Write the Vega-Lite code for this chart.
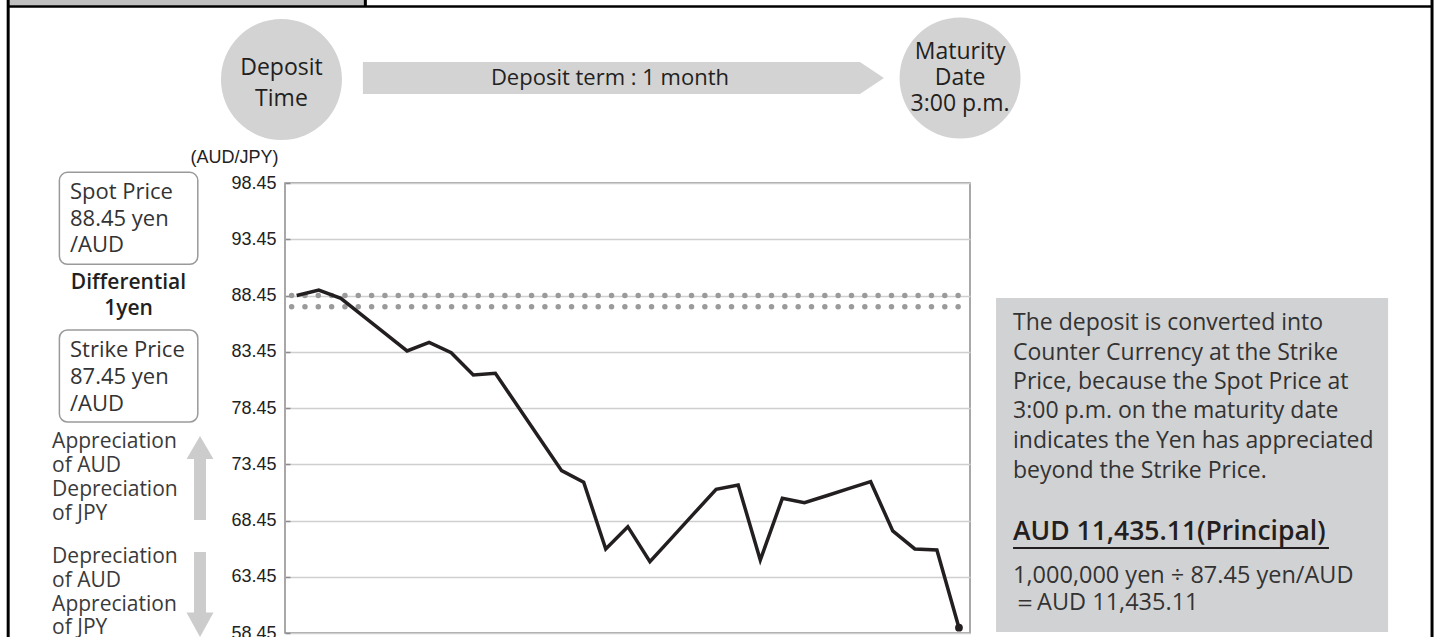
{
  "$schema": "https://vega.github.io/schema/vega-lite/v6.json",
  "width": 685,
  "height": 450,
  "autosize": "none",
  "padding": {"left": 285, "top": 183, "right": 468, "bottom": 4},
  "background": "white",
  "config": {"view": {"stroke": "#8c8c8c", "strokeWidth": 1.5}, "font": "Open Sans"},
  "datasets": {
    "fx": [
      {"day": 0, "rate": 88.45}, {"day": 1, "rate": 88.94}, {"day": 2, "rate": 88.20}, {"day": 3, "rate": 86.64},
      {"day": 4, "rate": 85.08}, {"day": 5, "rate": 83.52}, {"day": 6, "rate": 84.29}, {"day": 7, "rate": 83.37},
      {"day": 8, "rate": 81.38}, {"day": 9, "rate": 81.53}, {"day": 10, "rate": 78.65}, {"day": 11, "rate": 75.77},
      {"day": 12, "rate": 72.88}, {"day": 13, "rate": 71.85}, {"day": 14, "rate": 65.92}, {"day": 15, "rate": 67.90},
      {"day": 16, "rate": 64.79}, {"day": 17, "rate": 66.93}, {"day": 18, "rate": 69.08}, {"day": 19, "rate": 71.22},
      {"day": 20, "rate": 71.61}, {"day": 21, "rate": 64.94}, {"day": 22, "rate": 70.42}, {"day": 23, "rate": 70.03},
      {"day": 24, "rate": 70.65}, {"day": 25, "rate": 71.28}, {"day": 26, "rate": 71.90}, {"day": 27, "rate": 67.52},
      {"day": 28, "rate": 65.92}, {"day": 29, "rate": 65.83}, {"day": 30, "rate": 58.92}
    ]
  },
  "layer": [
    {
      "data": {"name": "fx"},
      "mark": {"type": "line", "color": "#231f20", "strokeWidth": 3.5, "strokeJoin": "miter", "opacity": 0},
      "encoding": {
        "x": {"field": "day", "type": "quantitative", "scale": {"domain": [-0.53, 30.5], "nice": false, "zero": false}, "axis": null},
        "y": {
          "field": "rate", "type": "quantitative",
          "scale": {"domain": [58.45, 98.45], "nice": false, "zero": false},
          "axis": {
            "values": [58.45, 63.45, 68.45, 73.45, 78.45, 83.45, 88.45, 93.45, 98.45],
            "format": ".2f",
            "title": "(AUD/JPY)",
            "titleAngle": 0, "titleAlign": "right", "titleBaseline": "middle",
            "titleX": -7, "titleY": -26,
            "titleFont": "Liberation Sans", "titleFontSize": 18, "titleFontWeight": "normal", "titleColor": "#222222",
            "labelFont": "Liberation Sans", "labelFontSize": 18, "labelColor": "#222222",
            "labelPadding": 14, "labelFlush": false, "labelOverlap": false, "labelBound": false,
            "ticks": true, "tickSize": -5, "tickColor": "#8c8c8c", "tickWidth": 1.5, "domain": false,
            "grid": true, "gridColor": "#cfcfcf", "gridWidth": 1.5
          }
        }
      }
    },
    {
      "data": {"values": [{"x": -13.07, "x2": 3.08, "y": 114.72, "y2": 114.21}]},
      "mark": {"type": "rect", "color": "#c0c0c0"},
      "encoding": {
        "x": {"field": "x", "type": "quantitative", "scale": {"domain": [-0.53, 30.5], "nice": false, "zero": false}, "axis": null},
        "x2": {"field": "x2"},
        "y": {"field": "y", "type": "quantitative", "scale": {"domain": [58.45, 98.45], "nice": false, "zero": false}},
        "y2": {"field": "y2"}
      }
    },
    {
      "data": {"values": [{"x": -13.07, "y": 114.72, "y2": 58.09}, {"x": 51.43, "y": 114.72, "y2": 58.09}, {"x": 3.11, "y": 114.72, "y2": 114.14}]},
      "mark": {"type": "rule", "color": "#000000", "strokeWidth": 3},
      "encoding": {
        "x": {"field": "x", "type": "quantitative", "scale": {"domain": [-0.53, 30.5], "nice": false, "zero": false}, "axis": null},
        "y": {"field": "y", "type": "quantitative", "scale": {"domain": [58.45, 98.45], "nice": false, "zero": false}},
        "y2": {"field": "y2"}
      }
    },
    {
      "data": {"values": [{"x": -13.07, "x2": 51.43, "y": 114.14}]},
      "mark": {"type": "rule", "color": "#000000", "strokeWidth": 2.5},
      "encoding": {
        "x": {"field": "x", "type": "quantitative", "scale": {"domain": [-0.53, 30.5], "nice": false, "zero": false}, "axis": null},
        "x2": {"field": "x2"},
        "y": {"field": "y", "type": "quantitative", "scale": {"domain": [58.45, 98.45], "nice": false, "zero": false}}
      }
    },
    {
      "data": {"values": [{"x": -0.69, "y": 107.65}, {"x": 30.05, "y": 107.78}]},
      "mark": {"type": "point", "shape": "circle", "filled": true, "size": 14641, "color": "#d3d3d4", "opacity": 1},
      "encoding": {
        "x": {"field": "x", "type": "quantitative", "scale": {"domain": [-0.53, 30.5], "nice": false, "zero": false}, "axis": null},
        "y": {"field": "y", "type": "quantitative", "scale": {"domain": [58.45, 98.45], "nice": false, "zero": false}}
      }
    },
    {
      "data": {"values": [{"x": 14.80, "y": 107.78}]},
      "mark": {"type": "point", "shape": "M-1,-0.0614 L0.908,-0.0614 L1,0 L0.908,0.0614 L-1,0.0614 Z", "filled": true, "size": 271441, "color": "#d3d3d4", "opacity": 1},
      "encoding": {
        "x": {"field": "x", "type": "quantitative", "scale": {"domain": [-0.53, 30.5], "nice": false, "zero": false}, "axis": null},
        "y": {"field": "y", "type": "quantitative", "scale": {"domain": [58.45, 98.45], "nice": false, "zero": false}}
      }
    },
    {
      "data": {"values": [
        {"t": "Deposit", "x": -0.69, "y": 108.67},
        {"t": "Time", "x": -0.69, "y": 105.92},
        {"t": "Maturity", "x": 30.05, "y": 110.09},
        {"t": "Date", "x": 30.05, "y": 107.78},
        {"t": "3:00 p.m.", "x": 30.05, "y": 105.47}
      ]},
      "mark": {"type": "text", "font": "Open Sans", "fontSize": 23, "fontWeight": 500, "color": "#231f20", "align": "center", "baseline": "middle"},
      "encoding": {
        "x": {"field": "x", "type": "quantitative", "scale": {"domain": [-0.53, 30.5], "nice": false, "zero": false}, "axis": null},
        "y": {"field": "y", "type": "quantitative", "scale": {"domain": [58.45, 98.45], "nice": false, "zero": false}},
        "text": {"field": "t"}
      }
    },
    {
      "data": {"values": [{"t": "Deposit term : 1 month", "x": 14.19, "y": 107.78}]},
      "mark": {"type": "text", "font": "Open Sans", "fontSize": 22, "fontWeight": 500, "color": "#231f20", "align": "center", "baseline": "middle"},
      "encoding": {
        "x": {"field": "x", "type": "quantitative", "scale": {"domain": [-0.53, 30.5], "nice": false, "zero": false}, "axis": null},
        "y": {"field": "y", "type": "quantitative", "scale": {"domain": [58.45, 98.45], "nice": false, "zero": false}},
        "text": {"field": "t"}
      }
    },
    {
      "data": {"values": [{"x": -10.75, "x2": -4.48, "y": 99.40, "y2": 91.22}, {"x": -10.75, "x2": -4.48, "y": 85.38, "y2": 77.21}]},
      "mark": {"type": "rect", "fill": "#ffffff", "stroke": "#9a9a9a", "strokeWidth": 1.5, "cornerRadius": 8},
      "encoding": {
        "x": {"field": "x", "type": "quantitative", "scale": {"domain": [-0.53, 30.5], "nice": false, "zero": false}, "axis": null},
        "x2": {"field": "x2"},
        "y": {"field": "y", "type": "quantitative", "scale": {"domain": [58.45, 98.45], "nice": false, "zero": false}},
        "y2": {"field": "y2"}
      }
    },
    {
      "data": {"values": [
        {"t": "Spot Price", "x": -10.27, "y": 97.65},
        {"t": "88.45 yen", "x": -10.27, "y": 95.25},
        {"t": "/AUD", "x": -10.27, "y": 92.94},
        {"t": "Strike Price", "x": -10.27, "y": 83.61},
        {"t": "87.45 yen", "x": -10.27, "y": 81.21},
        {"t": "/AUD", "x": -10.27, "y": 78.81}
      ]},
      "mark": {"type": "text", "font": "Open Sans", "fontSize": 22, "color": "#333333", "align": "left", "baseline": "middle"},
      "encoding": {
        "x": {"field": "x", "type": "quantitative", "scale": {"domain": [-0.53, 30.5], "nice": false, "zero": false}, "axis": null},
        "y": {"field": "y", "type": "quantitative", "scale": {"domain": [58.45, 98.45], "nice": false, "zero": false}},
        "text": {"field": "t"}
      }
    },
    {
      "data": {"values": [{"t": "Differential", "x": -7.62, "y": 89.56}, {"t": "1yen", "x": -7.62, "y": 87.25}]},
      "mark": {"type": "text", "font": "Open Sans", "fontSize": 21, "fontWeight": 600, "color": "#231f20", "align": "center", "baseline": "middle"},
      "encoding": {
        "x": {"field": "x", "type": "quantitative", "scale": {"domain": [-0.53, 30.5], "nice": false, "zero": false}, "axis": null},
        "y": {"field": "y", "type": "quantitative", "scale": {"domain": [58.45, 98.45], "nice": false, "zero": false}},
        "text": {"field": "t"}
      }
    },
    {
      "data": {"values": [{"x": -4.38, "y": 72.23}]},
      "mark": {"type": "point", "shape": "M0,-1 L0.32,-0.452 L0.143,-0.452 L0.143,1 L-0.143,1 L-0.143,-0.452 L-0.32,-0.452 Z", "filled": true, "size": 7056, "color": "#cccccc", "opacity": 1},
      "encoding": {
        "x": {"field": "x", "type": "quantitative", "scale": {"domain": [-0.53, 30.5], "nice": false, "zero": false}, "axis": null},
        "y": {"field": "y", "type": "quantitative", "scale": {"domain": [58.45, 98.45], "nice": false, "zero": false}}
      }
    },
    {
      "data": {"values": [{"x": -4.38, "y": 61.87}]},
      "mark": {"type": "point", "shape": "M0,1 L0.318,0.424 L0.141,0.424 L0.141,-1 L-0.141,-1 L-0.141,0.424 L-0.318,0.424 Z", "filled": true, "size": 7225, "color": "#cccccc", "opacity": 1},
      "encoding": {
        "x": {"field": "x", "type": "quantitative", "scale": {"domain": [-0.53, 30.5], "nice": false, "zero": false}, "axis": null},
        "y": {"field": "y", "type": "quantitative", "scale": {"domain": [58.45, 98.45], "nice": false, "zero": false}}
      }
    },
    {
      "data": {"values": [
        {"t": "Appreciation", "x": -11.08, "y": 75.43},
        {"t": "of AUD", "x": -11.08, "y": 73.29},
        {"t": "Depreciation", "x": -11.08, "y": 71.16},
        {"t": "of JPY", "x": -11.08, "y": 69.03},
        {"t": "Depreciation", "x": -11.08, "y": 65.21},
        {"t": "of AUD", "x": -11.08, "y": 63.07},
        {"t": "Appreciation", "x": -11.08, "y": 60.94},
        {"t": "of JPY", "x": -11.08, "y": 58.89}
      ]},
      "mark": {"type": "text", "font": "Open Sans", "fontSize": 21, "color": "#3a3a3a", "align": "left", "baseline": "middle"},
      "encoding": {
        "x": {"field": "x", "type": "quantitative", "scale": {"domain": [-0.53, 30.5], "nice": false, "zero": false}, "axis": null},
        "y": {"field": "y", "type": "quantitative", "scale": {"domain": [58.45, 98.45], "nice": false, "zero": false}},
        "text": {"field": "t"}
      }
    },
    {
      "data": {"values": [{"x": 31.68, "x2": 49.44, "y": 88.23, "y2": 58.54}]},
      "mark": {"type": "rect", "color": "#d1d2d4"},
      "encoding": {
        "x": {"field": "x", "type": "quantitative", "scale": {"domain": [-0.53, 30.5], "nice": false, "zero": false}, "axis": null},
        "x2": {"field": "x2"},
        "y": {"field": "y", "type": "quantitative", "scale": {"domain": [58.45, 98.45], "nice": false, "zero": false}},
        "y2": {"field": "y2"}
      }
    },
    {
      "data": {"values": [
        {"t": "The deposit is converted into", "x": 32.45, "y": 86.01},
        {"t": "Counter Currency at the Strike", "x": 32.45, "y": 83.38},
        {"t": "Price, because the Spot Price at", "x": 32.45, "y": 80.76},
        {"t": "3:00 p.m. on the maturity date", "x": 32.45, "y": 78.14},
        {"t": "indicates the Yen has appreciated", "x": 32.45, "y": 75.52},
        {"t": "beyond the Strike Price.", "x": 32.45, "y": 72.89}
      ]},
      "mark": {"type": "text", "font": "Open Sans", "fontSize": 23, "color": "#333333", "align": "left", "baseline": "middle"},
      "encoding": {
        "x": {"field": "x", "type": "quantitative", "scale": {"domain": [-0.53, 30.5], "nice": false, "zero": false}, "axis": null},
        "y": {"field": "y", "type": "quantitative", "scale": {"domain": [58.45, 98.45], "nice": false, "zero": false}},
        "text": {"field": "t"}
      }
    },
    {
      "data": {"values": [{"t": "AUD 11,435.11(Principal)", "x": 32.45, "y": 67.43}]},
      "mark": {"type": "text", "font": "Open Sans", "fontSize": 26.5, "fontWeight": 600, "color": "#231f20", "align": "left", "baseline": "middle"},
      "encoding": {
        "x": {"field": "x", "type": "quantitative", "scale": {"domain": [-0.53, 30.5], "nice": false, "zero": false}, "axis": null},
        "y": {"field": "y", "type": "quantitative", "scale": {"domain": [58.45, 98.45], "nice": false, "zero": false}},
        "text": {"field": "t"}
      }
    },
    {
      "data": {"values": [{"x": 32.45, "x2": 46.76, "y": 66.01}]},
      "mark": {"type": "rule", "color": "#231f20", "strokeWidth": 2},
      "encoding": {
        "x": {"field": "x", "type": "quantitative", "scale": {"domain": [-0.53, 30.5], "nice": false, "zero": false}, "axis": null},
        "x2": {"field": "x2"},
        "y": {"field": "y", "type": "quantitative", "scale": {"domain": [58.45, 98.45], "nice": false, "zero": false}}
      }
    },
    {
      "data": {"values": [
        {"t": "1,000,000 yen ÷ 87.45 yen/AUD", "x": 32.45, "y": 63.52},
        {"t": "＝AUD 11,435.11", "x": 32.45, "y": 61.12}
      ]},
      "mark": {"type": "text", "font": "Open Sans", "fontSize": 23.5, "color": "#333333", "align": "left", "baseline": "middle"},
      "encoding": {
        "x": {"field": "x", "type": "quantitative", "scale": {"domain": [-0.53, 30.5], "nice": false, "zero": false}, "axis": null},
        "y": {"field": "y", "type": "quantitative", "scale": {"domain": [58.45, 98.45], "nice": false, "zero": false}},
        "text": {"field": "t"}
      }
    },
    {
      "data": {"values": [{"x": -0.23, "x2": 30.5, "y": 88.45}, {"x": -0.23, "x2": 30.5, "y": 87.45}]},
      "mark": {"type": "rule", "color": "#9a9a9a", "strokeWidth": 5.5, "strokeDash": [0, 13.33], "strokeCap": "round"},
      "encoding": {
        "x": {"field": "x", "type": "quantitative", "scale": {"domain": [-0.53, 30.5], "nice": false, "zero": false}, "axis": null},
        "x2": {"field": "x2"},
        "y": {"field": "y", "type": "quantitative", "scale": {"domain": [58.45, 98.45], "nice": false, "zero": false}}
      }
    },
    {
      "data": {"name": "fx"},
      "mark": {"type": "line", "color": "#231f20", "strokeWidth": 3.5, "strokeJoin": "miter"},
      "encoding": {
        "x": {"field": "day", "type": "quantitative", "scale": {"domain": [-0.53, 30.5], "nice": false, "zero": false}, "axis": null},
        "y": {"field": "rate", "type": "quantitative", "scale": {"domain": [58.45, 98.45], "nice": false, "zero": false}}
      }
    },
    {
      "data": {"name": "fx"},
      "transform": [{"filter": "datum.day == 30"}],
      "mark": {"type": "point", "shape": "circle", "filled": true, "size": 60, "color": "#231f20", "opacity": 1},
      "encoding": {
        "x": {"field": "day", "type": "quantitative", "scale": {"domain": [-0.53, 30.5], "nice": false, "zero": false}, "axis": null},
        "y": {"field": "rate", "type": "quantitative", "scale": {"domain": [58.45, 98.45], "nice": false, "zero": false}}
      }
    }
  ]
}
